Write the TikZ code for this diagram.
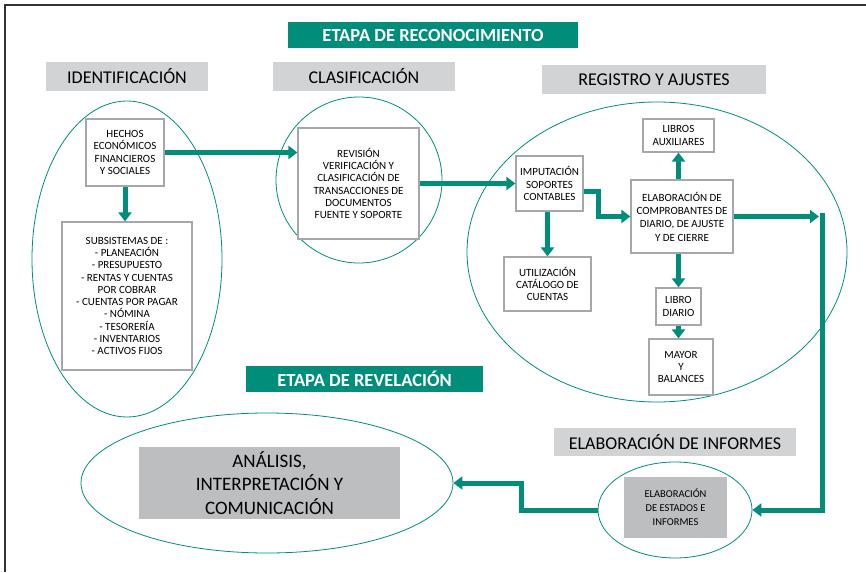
\documentclass[tikz,border=0pt]{standalone}
\usepackage{fontspec}
\setmainfont{Carlito}
\usetikzlibrary{shapes.geometric,arrows.meta}
\definecolor{verde}{RGB}{0,142,122}
\definecolor{grisclaro}{RGB}{209,211,212}
\definecolor{grismedio}{RGB}{188,190,192}
\definecolor{borde}{RGB}{165,167,170}

\begin{document}
\begin{tikzpicture}[x=1pt,y=-1pt,
  caja/.style={draw=borde, line width=1.2pt, fill=white, align=center, inner sep=0pt, font=\fontsize{11}{12.3}\selectfont},
  ovalo/.style={draw=verde, line width=0.8pt, ellipse, inner sep=0pt},
  etapa/.style={fill=verde, text=white, font=\fontsize{18.5}{20}\selectfont\bfseries, inner sep=0pt},
  fase/.style={fill=grisclaro, font=\fontsize{18}{21}\selectfont, inner sep=0pt},
  flecha/.style={draw=verde, line width=5pt, -{Triangle[length=9pt,width=13pt]}}]
\useasboundingbox (0,0) rectangle (866,572);
% marco
\draw[line width=1.3pt, black!80] (5,572) -- (5,5) -- (866,5);

% encabezados
\node[etapa, minimum width=290pt, minimum height=26pt] (reconoc) at (433,35) {ETAPA DE RECONOCIMIENTO};
\node[fase, minimum width=162pt, minimum height=29pt] (identif) at (127,76.5) {IDENTIFICACIÓN};
\node[fase, minimum width=182pt, minimum height=29pt] (clasif) at (364,76.5) {CLASIFICACIÓN};
\node[fase, minimum width=224pt, minimum height=29pt] (registro) at (654,79.5) {REGISTRO Y AJUSTES};
\node[etapa, minimum width=237pt, minimum height=26pt] (revela) at (364.5,378.5) {ETAPA DE REVELACIÓN};
\node[fase, minimum width=242pt, minimum height=28pt] (informes) at (675,442) {ELABORACIÓN DE INFORMES};

% ovalos
\node[ovalo, minimum width=190pt, minimum height=316pt] (e1) at (127,259) {};
\node[ovalo, minimum width=166pt, minimum height=166pt] (e2) at (359,180) {};
\node[ovalo, minimum width=380pt, minimum height=300pt] (e3) at (657,252) {};
\node[ovalo, minimum width=372pt, minimum height=140pt] (e4) at (267,483) {};
\node[ovalo, minimum width=154pt, minimum height=96pt] (e5) at (675,510) {};

% identificacion
\node[caja, minimum width=78pt, minimum height=67pt] (hechos) at (125,152.5) {HECHOS\\ECONÓMICOS\\FINANCIEROS\\Y SOCIALES};
\node[caja, minimum width=130pt, minimum height=148pt] (subsis) at (127,296) {SUBSISTEMAS DE :\\- PLANEACIÓN\\- PRESUPUESTO\\- RENTAS Y CUENTAS\\POR COBRAR\\- CUENTAS POR PAGAR\\- NÓMINA\\- TESORERÍA\\- INVENTARIOS\\- ACTIVOS FIJOS};

% clasificacion
\node[caja, minimum width=121pt, minimum height=111pt] (revision) at (358.5,183.5) {REVISIÓN\\VERIFICACIÓN Y\\CLASIFICACIÓN DE\\TRANSACCIONES DE\\DOCUMENTOS\\FUENTE Y SOPORTE};

% registro y ajustes
\node[caja, minimum width=67pt, minimum height=55pt] (imput) at (549.5,183.5) {IMPUTACIÓN\\SOPORTES\\CONTABLES};
\node[caja, minimum width=87pt, minimum height=54pt] (utiliz) at (547.5,284) {UTILIZACIÓN\\CATÁLOGO DE\\CUENTAS};
\node[caja, minimum width=102pt, minimum height=73pt, font=\fontsize{11}{13.3}\selectfont] (comprob) at (682,216.5) {ELABORACIÓN DE\\COMPROBANTES DE\\DIARIO, DE AJUSTE\\Y DE CIERRE};
\node[caja, minimum width=71pt, minimum height=33pt] (auxiliar) at (678.5,135.5) {LIBROS\\AUXILIARES};
\node[caja, minimum width=45pt, minimum height=37pt] (diario) at (678.5,306.5) {LIBRO\\DIARIO};
\node[caja, minimum width=64pt, minimum height=56pt] (mayor) at (681,367) {MAYOR\\Y\\BALANCES};

% revelacion
\node[fill=grismedio, align=center, inner sep=0pt, minimum width=103pt, minimum height=61pt, font=\fontsize{10.5}{14}\selectfont] (estados) at (675.5,507.5) {ELABORACIÓN\\DE ESTADOS E\\INFORMES};
\node[fill=grismedio, align=center, inner sep=0pt, minimum width=261pt, minimum height=72pt, font=\fontsize{19}{23.3}\selectfont] (analisis) at (269.5,483) {ANÁLISIS,\\INTERPRETACIÓN Y\\COMUNICACIÓN};

% flechas
\draw[flecha] (hechos.south) -- (hechos.south |- subsis.north);
\draw[flecha] (hechos.east) -- (hechos.east -| revision.west);
\draw[flecha] (revision.east) -- (revision.east -| imput.west);
\draw[flecha] (utiliz.north |- imput.south) -- (utiliz.north);
\draw[flecha] ([yshift=-7.5pt]imput.east) -- ++(15,0) |- (comprob.west);
\draw[flecha] (auxiliar.south |- comprob.north) -- (auxiliar.south);
\draw[flecha] (diario.north |- comprob.south) -- (diario.north);
\draw[flecha] (diario.south) -- (diario.south |- mayor.north);
\coordinate (codo) at (819,216.5);
\coordinate (esquina) at (822,213);
\draw[flecha] (comprob.east) -- (codo);
\draw[flecha] (esquina) |- (e5.east);
\draw[flecha] (e5.west) -- ++(-76,0) |- (e4.east);
\end{tikzpicture}
\end{document}
